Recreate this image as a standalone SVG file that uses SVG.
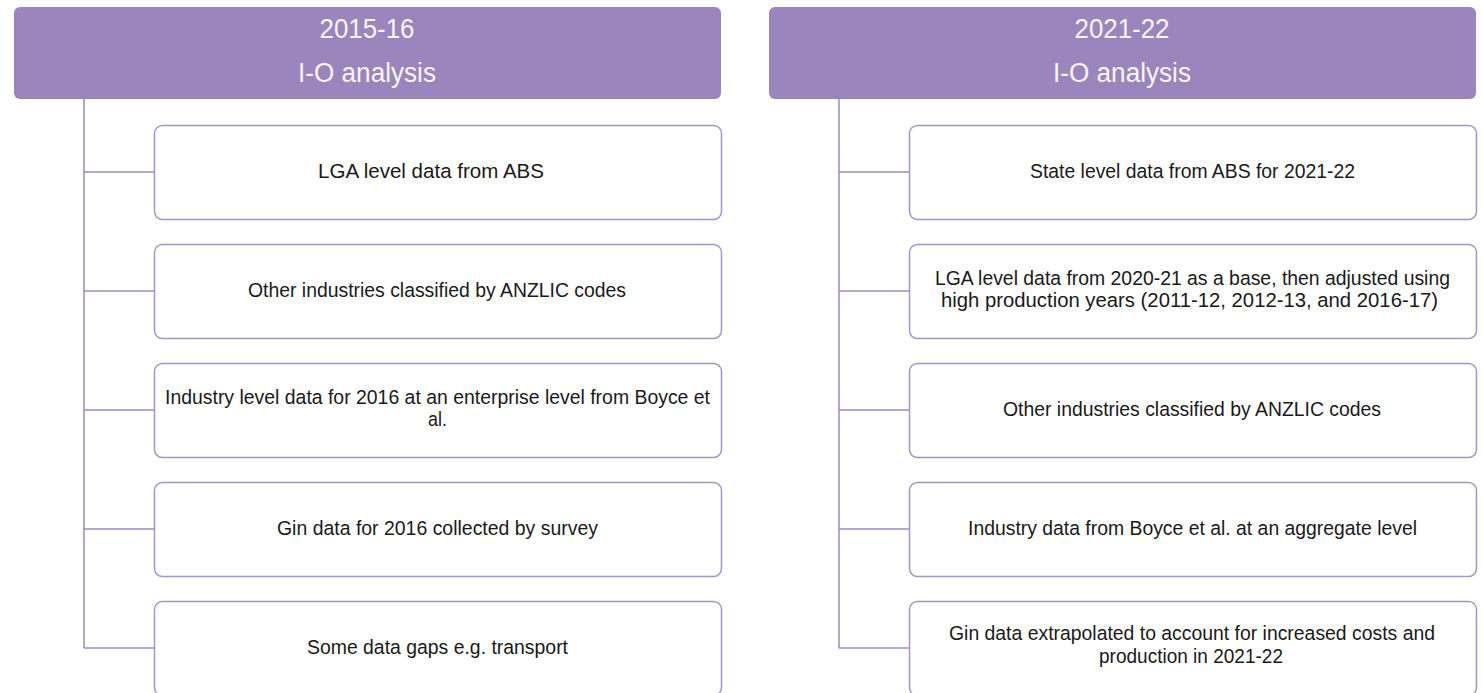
<svg xmlns="http://www.w3.org/2000/svg" width="1483" height="693" viewBox="0 0 1483 693">
<style>
.hdr{fill:#9B85BD;stroke:none}
.box{fill:#ffffff;stroke:#A793CC;stroke-width:1.5}
.ln{stroke:#9E89C1;stroke-width:1.5;fill:none}
.ht{font-family:"Liberation Sans",Arial,sans-serif;font-size:27px;fill:#F7F4FA;text-anchor:middle}
.bt{font-family:"Liberation Sans",Arial,sans-serif;font-size:20.5px;fill:#1a1a1a;text-anchor:middle}
</style>
<rect width="1483" height="693" fill="#ffffff"/>
<g id="connectors">
<path class="ln" d="M84 99V648M84 172H154M84 291H154M84 410H154M84 529H154M84 648H154"/>
<path class="ln" d="M839 99V648M839 172H909M839 291H909M839 410H909M839 529H909M839 648H909"/>
</g>
<g id="header-left">
<rect class="hdr" x="14" y="7" width="707" height="92" rx="6"/>
<text class="ht" x="367" y="38" textLength="95" lengthAdjust="spacingAndGlyphs">2015-16</text>
<text class="ht" x="367" y="82" textLength="138" lengthAdjust="spacingAndGlyphs">I-O analysis</text>
</g>
<g id="header-right">
<rect class="hdr" x="769" y="7" width="707" height="92" rx="6"/>
<text class="ht" x="1122" y="38" textLength="95" lengthAdjust="spacingAndGlyphs">2021-22</text>
<text class="ht" x="1122" y="82" textLength="138" lengthAdjust="spacingAndGlyphs">I-O analysis</text>
</g>
<g id="l1"><rect class="box" x="154.5" y="125.5" width="567" height="94" rx="8"/>
<text class="bt" x="431" y="178" textLength="226" lengthAdjust="spacingAndGlyphs">LGA level data from ABS</text></g>
<g id="l2"><rect class="box" x="154.5" y="244.5" width="567" height="94" rx="8"/>
<text class="bt" x="437" y="297" textLength="378" lengthAdjust="spacingAndGlyphs">Other industries classified by ANZLIC codes</text></g>
<g id="l3"><rect class="box" x="154.5" y="363.5" width="567" height="94" rx="8"/>
<text class="bt" x="437.5" y="404" textLength="545" lengthAdjust="spacingAndGlyphs">Industry level data for 2016 at an enterprise level from Boyce et</text>
<text class="bt" x="437.5" y="426" textLength="19" lengthAdjust="spacingAndGlyphs">al.</text></g>
<g id="l4"><rect class="box" x="154.5" y="482.5" width="567" height="94" rx="8"/>
<text class="bt" x="437.5" y="535" textLength="321" lengthAdjust="spacingAndGlyphs">Gin data for 2016 collected by survey</text></g>
<g id="l5"><rect class="box" x="154.5" y="601.5" width="567" height="94" rx="8"/>
<text class="bt" x="437.5" y="654" textLength="261" lengthAdjust="spacingAndGlyphs">Some data gaps e.g. transport</text></g>
<g id="r1"><rect class="box" x="909.5" y="125.5" width="567" height="94" rx="8"/>
<text class="bt" x="1192.5" y="178" textLength="325" lengthAdjust="spacingAndGlyphs">State level data from ABS for 2021-22</text></g>
<g id="r2"><rect class="box" x="909.5" y="244.5" width="567" height="94" rx="8"/>
<text class="bt" x="1192.5" y="285" textLength="515" lengthAdjust="spacingAndGlyphs">LGA level data from 2020-21 as a base, then adjusted using</text>
<text class="bt" x="1189.5" y="307" textLength="497" lengthAdjust="spacingAndGlyphs">high production years (2011-12, 2012-13, and 2016-17)</text></g>
<g id="r3"><rect class="box" x="909.5" y="363.5" width="567" height="94" rx="8"/>
<text class="bt" x="1192" y="416" textLength="378" lengthAdjust="spacingAndGlyphs">Other industries classified by ANZLIC codes</text></g>
<g id="r4"><rect class="box" x="909.5" y="482.5" width="567" height="94" rx="8"/>
<text class="bt" x="1192.5" y="535" textLength="449" lengthAdjust="spacingAndGlyphs">Industry data from Boyce et al. at an aggregate level</text></g>
<g id="r5"><rect class="box" x="909.5" y="601.5" width="567" height="94" rx="8"/>
<text class="bt" x="1192" y="640" textLength="486" lengthAdjust="spacingAndGlyphs">Gin data extrapolated to account for increased costs and</text>
<text class="bt" x="1191" y="663" textLength="184" lengthAdjust="spacingAndGlyphs">production in 2021-22</text></g>
</svg>
